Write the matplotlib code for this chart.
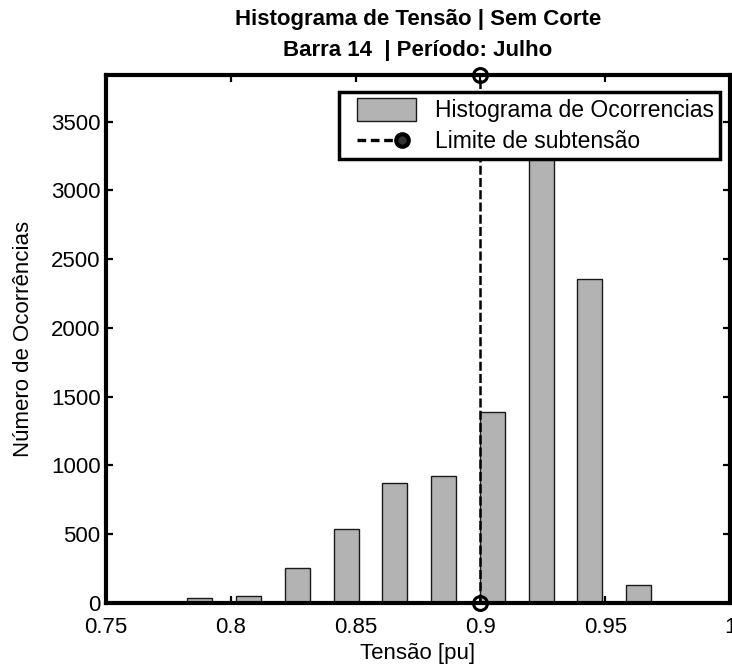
import matplotlib
matplotlib.use("Agg")
import matplotlib.pyplot as plt
from matplotlib.lines import Line2D
from matplotlib.patches import Patch, Rectangle
from matplotlib.legend_handler import HandlerBase

plt.rcParams['font.family'] = ['Liberation Sans', 'DejaVu Sans']

# Histogram bins (bar centres, pu) and occurrence counts
bin_centers = [0.7876, 0.8071, 0.8266, 0.8462, 0.8657, 0.8852, 0.9048, 0.9243, 0.9438, 0.9633]
counts = [35, 49, 256, 539, 873, 927, 1387, 3449, 2356, 129]
limit_pu = 0.9
y_top = 3840
x_ticks = [0.75, 0.8, 0.85, 0.9, 0.95, 1.0]
x_tick_labels = ['0.75', '0.8', '0.85', '0.9', '0.95', '1']
y_ticks = [0, 500, 1000, 1500, 2000, 2500, 3000, 3500]

BAR_FACE = '#b3b3b3'
BAR_EDGE = '#1a1a1a'

fig = plt.figure(figsize=(7.32, 6.66), dpi=100)
ax = fig.add_axes([0.1448, 0.0946, 0.8525, 0.7928])

bar_width = 0.0100
ax.bar(bin_centers, counts, width=bar_width, color=BAR_FACE,
       edgecolor=BAR_EDGE, linewidth=1.0, zorder=2)

vline, = ax.plot([limit_pu, limit_pu], [0, y_top], color='black', linewidth=1.8,
                 marker='o', markersize=10, markerfacecolor='none',
                 markeredgewidth=2.2, clip_on=False, zorder=4)
vline.set_dashes([3.6, 1.3])

ax.set_xlim(0.75, 1.0)
ax.set_ylim(0, y_top)
ax.set_xticks(x_ticks)
ax.set_xticklabels(x_tick_labels)
ax.set_yticks(y_ticks)
ax.tick_params(direction='in', length=5, width=1.6, top=True, right=True,
               labelsize=16)
ax.tick_params(axis='x', pad=10)
ax.tick_params(axis='y', pad=4)
for s in ax.spines.values():
    s.set_linewidth(3)
    s.set_zorder(5)

ax.set_xlabel('Tensão [pu]', fontsize=16, labelpad=4)
ax.set_ylabel('Número de Ocorrências', fontsize=16, labelpad=12)
ax.set_title('Histograma de Tensão | Sem Corte\nBarra 14  | Período: Julho',
             fontsize=16, fontweight='bold', pad=14, linespacing=1.6)


class PatchHandler(HandlerBase):
    """Grey swatch, inset from the left of the handle box."""
    def create_artists(self, legend, orig_handle, xdescent, ydescent,
                       width, height, fontsize, trans):
        inset = 0.17 * width
        h = 1.05 * height
        y0 = -ydescent + (height - h) / 2
        rect = Rectangle((-xdescent + inset, y0), width - inset, h,
                         facecolor=orig_handle.get_facecolor(),
                         edgecolor=orig_handle.get_edgecolor(),
                         linewidth=orig_handle.get_linewidth(),
                         transform=trans)
        return [rect]


class DashMarkerHandler(HandlerBase):
    """Dashed segment ending in a circle marker."""
    def create_artists(self, legend, orig_handle, xdescent, ydescent,
                       width, height, fontsize, trans):
        y = -ydescent + height / 2
        x0 = -xdescent + 0.17 * width
        xm = -xdescent + 0.80 * width
        seg = Line2D([x0, xm], [y, y], color='black', linewidth=2.4,
                     transform=trans)
        seg.set_dashes([2.6, 1.4])
        mk = Line2D([xm], [y], marker='o', markersize=9,
                    markerfacecolor='#333333', markeredgecolor='black',
                    markeredgewidth=3, linestyle='none', transform=trans)
        return [seg, mk]


hist_handle = Patch(facecolor=BAR_FACE, edgecolor=BAR_EDGE, linewidth=1.0)
line_handle = Line2D([], [], color='black')

leg = ax.legend([hist_handle, line_handle],
                ['Histograma de Ocorrencias', 'Limite de subtensão'],
                loc='upper right', bbox_to_anchor=(0.984, 0.968),
                borderaxespad=0, prop={'size': 16.5}, frameon=True,
                fancybox=False, framealpha=1, edgecolor='black',
                handlelength=3.1, handleheight=1.1, handletextpad=0.8,
                labelspacing=0.3, borderpad=0.28,
                handler_map={Patch: PatchHandler(), Line2D: DashMarkerHandler()})
leg.get_frame().set_linewidth(2.5)
leg.set_zorder(6)

fig.savefig('out.png', dpi=100)
